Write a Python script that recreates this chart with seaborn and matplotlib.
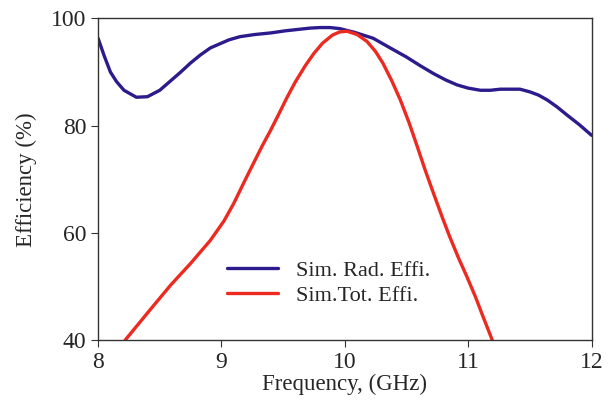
import matplotlib
matplotlib.use("Agg")
from matplotlib import pyplot as plt
import seaborn as sns
import pandas as pd

rad_freq = [8.0, 8.05, 8.10, 8.15, 8.21, 8.31, 8.40, 8.50, 8.58, 8.67, 8.75, 8.83,
            8.91, 8.99, 9.06, 9.15, 9.27, 9.40, 9.52, 9.64, 9.72, 9.80, 9.88,
            9.96, 10.08, 10.23, 10.36, 10.50, 10.61, 10.72, 10.82, 10.91, 11.00,
            11.10, 11.18, 11.26, 11.34, 11.42, 11.50, 11.57, 11.64, 11.72,
            11.80, 11.90, 12.0]
rad_eff = [96.3, 93.0, 90.0, 88.2, 86.6, 85.3, 85.4, 86.6, 88.2, 90.0, 91.7, 93.2,
           94.5, 95.3, 96.0, 96.6, 97.0, 97.3, 97.7, 98.0, 98.2, 98.3, 98.3,
           98.1, 97.4, 96.3, 94.6, 92.8, 91.2, 89.7, 88.5, 87.6, 87.0,
           86.6, 86.6, 86.8, 86.8, 86.8, 86.3, 85.7, 84.8, 83.5,
           82.0, 80.2, 78.2]

tot_freq = [8.22, 8.32, 8.42, 8.59, 8.75, 8.91, 9.02, 9.10, 9.18, 9.26, 9.33,
            9.40, 9.47, 9.53, 9.60, 9.68, 9.75, 9.82, 9.90, 9.96, 10.02, 10.10,
            10.18, 10.25, 10.31, 10.38, 10.45, 10.52, 10.58, 10.65, 10.72, 10.79,
            10.85, 10.92, 10.99, 11.06, 11.12, 11.195]
tot_eff = [40.0, 42.8, 45.6, 50.3, 54.3, 58.6, 62.2, 65.5, 69.3, 73.0, 76.2,
           79.2, 82.4, 85.2, 88.2, 91.2, 93.5, 95.4, 96.9, 97.5, 97.6, 97.0,
           95.7, 93.8, 91.6, 88.4, 84.8, 80.6, 76.6, 71.8, 67.3, 62.9,
           59.3, 55.4, 51.8, 48.0, 44.4, 40.0]

rad = pd.DataFrame({"freq": rad_freq, "eff": rad_eff})
tot = pd.DataFrame({"freq": tot_freq, "eff": tot_eff})

sns.set_style("ticks")
plt.rcParams["font.family"] = ["Liberation Serif", "DejaVu Serif"]

fig = plt.figure(figsize=(6.13, 4.01), dpi=100)
ax = fig.add_axes([0.16, 0.152, 0.805, 0.802])

sns.lineplot(data=rad, x="freq", y="eff", ax=ax, color="#2b1b8c", lw=2.4,
             label="Sim. Rad. Effi.")
sns.lineplot(data=tot, x="freq", y="eff", ax=ax, color="#ec2a20", lw=2.4,
             label="Sim.Tot. Effi.")

ax.set_xlim(8, 12)
ax.set_ylim(40, 100)
ax.set_xticks([8, 9, 10, 11, 12])
ax.set_yticks([40, 60, 80, 100])
ax.tick_params(labelsize=17, direction="out", length=5, color="#333333")
for s in ax.spines.values():
    s.set_visible(True)
    s.set_color("#333333")
    s.set_linewidth(1.0)
ax.set_xlabel("Frequency, (GHz)", fontsize=16.5, labelpad=1)
ax.set_ylabel("Efficiency (%)", fontsize=16.5, labelpad=10)

ax.legend(loc="lower left", bbox_to_anchor=(0.22, 0.045), frameon=False,
          fontsize=16, handlelength=2.3, labelspacing=0.2)

fig.savefig("out.png", dpi=100)
